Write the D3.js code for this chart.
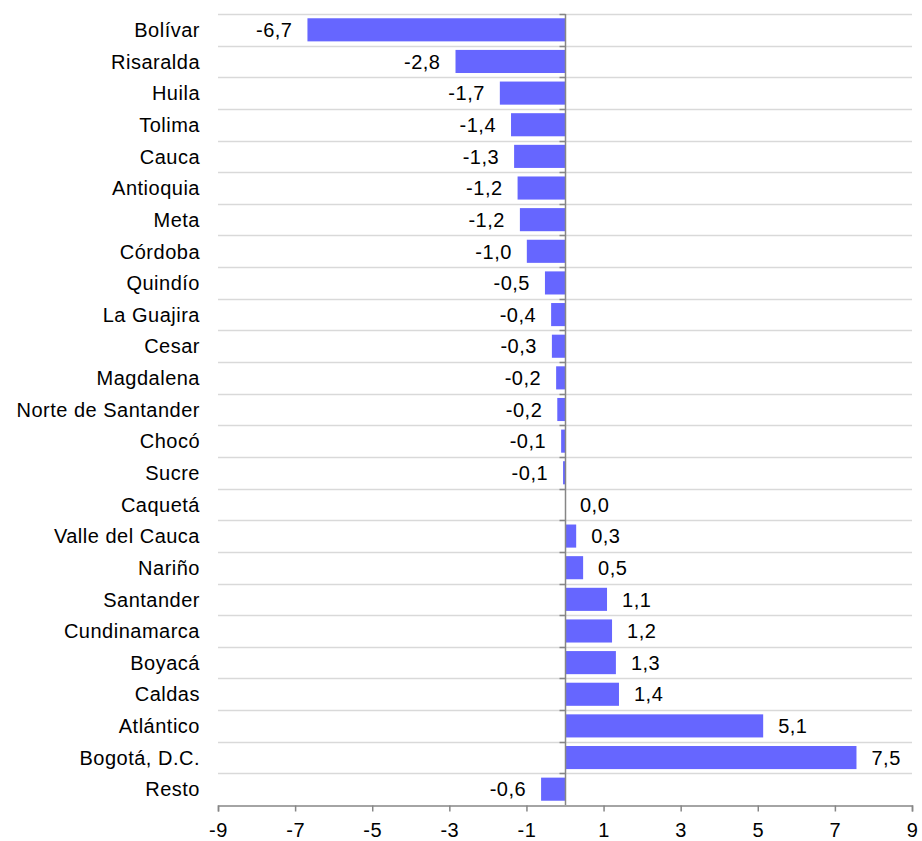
<!DOCTYPE html>
<html>
<head>
<meta charset="utf-8">
<script src="https://cdn.jsdelivr.net/npm/d3@7"></script>
<style>
  body { margin: 0; background: #fff; }
  svg text { font-family: "Liberation Sans", Arial, sans-serif; fill: #000; letter-spacing: 0.5px; }
</style>
</head>
<body>
<svg id="chart" width="922" height="841"></svg>
<script>
// departments, top to bottom
var departments = ["Bolívar", "Risaralda", "Huila", "Tolima", "Cauca", "Antioquia", "Meta",
  "Córdoba", "Quindío", "La Guajira", "Cesar", "Magdalena", "Norte de Santander", "Chocó",
  "Sucre", "Caquetá", "Valle del Cauca", "Nariño", "Santander", "Cundinamarca", "Boyacá",
  "Caldas", "Atlántico", "Bogotá, D.C.", "Resto"];
// bar lengths
var values = [-6.68, -2.84, -1.69, -1.40, -1.32, -1.23, -1.17, -0.99, -0.52, -0.36, -0.34,
  -0.23, -0.20, -0.10, -0.05, 0.0, 0.29, 0.47, 1.09, 1.22, 1.32, 1.40, 5.14, 7.56, -0.62];
// printed labels
var labels = ["-6,7", "-2,8", "-1,7", "-1,4", "-1,3", "-1,2", "-1,2", "-1,0", "-0,5", "-0,4",
  "-0,3", "-0,2", "-0,2", "-0,1", "-0,1", "0,0", "0,3", "0,5", "1,1", "1,2", "1,3", "1,4",
  "5,1", "7,5", "-0,6"];
var xTicks = [-9, -7, -5, -3, -1, 1, 3, 5, 7, 9];

var data = departments.map(function(d, i) {
  return { name: d, value: values[i], label: labels[i] };
});

var svg = d3.select("#chart");
var mLeft = 218, mRight = 912, mTop = 14, mBottom = 805;
var fontSize = "20px";

var x = d3.scaleLinear().domain([-9, 9]).range([mLeft, mRight]);
var y = d3.scaleBand().domain(departments).range([mTop, mBottom]).paddingInner(0.27).paddingOuter(0.135);
var step = y.step();

// horizontal gridlines at band boundaries
var bounds = d3.range(departments.length).map(function(i) { return mTop + i * step; });
svg.selectAll(".grid")
  .data(bounds)
  .enter()
  .append("line")
  .attr("class", "grid")
  .attr("x1", mLeft).attr("x2", mRight)
  .attr("y1", function(d) { return Math.round(d) + 0.5; })
  .attr("y2", function(d) { return Math.round(d) + 0.5; })
  .attr("stroke", "#d9d9d9")
  .attr("stroke-width", 1.5);

// bars
svg.selectAll(".bar")
  .data(data)
  .enter()
  .append("rect")
  .attr("class", "bar")
  .attr("x", function(d) { return x(Math.min(0, d.value)); })
  .attr("y", function(d) { return y(d.name); })
  .attr("width", function(d) { return Math.abs(x(d.value) - x(0)); })
  .attr("height", y.bandwidth())
  .attr("fill", "#6666ff");

// value labels
svg.selectAll(".val")
  .data(data)
  .enter()
  .append("text")
  .attr("class", "val")
  .attr("x", function(d) { return d.value < 0 ? x(d.value) - 15 : x(d.value) + 15; })
  .attr("y", function(d) { return y(d.name) + y.bandwidth() / 2; })
  .attr("dy", "0.36em")
  .attr("text-anchor", function(d) { return d.value < 0 ? "end" : "start"; })
  .style("font-size", fontSize)
  .text(function(d) { return d.label; });

// zero axis with small ticks to the left
var zx = Math.round(x(0)) + 0.5;
svg.append("line")
  .attr("x1", zx).attr("x2", zx)
  .attr("y1", mTop).attr("y2", mBottom)
  .attr("stroke", "#868686").attr("stroke-width", 1.5);
svg.selectAll(".ztick")
  .data(bounds)
  .enter()
  .append("line")
  .attr("class", "ztick")
  .attr("x1", zx - 6).attr("x2", zx)
  .attr("y1", function(d) { return Math.round(d) + 0.5; })
  .attr("y2", function(d) { return Math.round(d) + 0.5; })
  .attr("stroke", "#868686").attr("stroke-width", 1.5);

// category labels
svg.selectAll(".cat")
  .data(departments)
  .enter()
  .append("text")
  .attr("class", "cat")
  .attr("x", 200)
  .attr("y", function(d) { return y(d) + y.bandwidth() / 2; })
  .attr("dy", "0.36em")
  .attr("text-anchor", "end")
  .style("font-size", fontSize)
  .text(function(d) { return d; });

// bottom axis
var xAxis = d3.axisBottom(x).tickValues(xTicks).tickSize(6).tickPadding(11)
  .tickFormat(function(d) { return d; });
var gx = svg.append("g")
  .attr("transform", "translate(0," + (mBottom + 0.5) + ")")
  .call(xAxis);
gx.select(".domain").attr("stroke", "#868686").attr("stroke-width", 1.5);
gx.selectAll(".tick line").attr("stroke", "#868686").attr("stroke-width", 1.5);
gx.selectAll(".tick text")
  .style("font-family", "'Liberation Sans', Arial, sans-serif")
  .style("font-size", fontSize)
  .attr("fill", "#000");
</script>
</body>
</html>
